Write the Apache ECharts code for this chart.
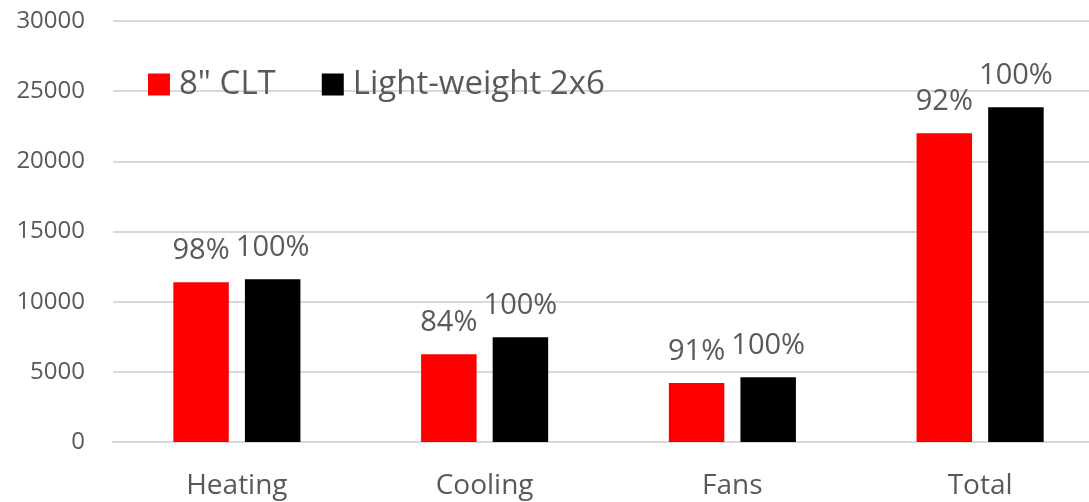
<!DOCTYPE html>
<html>
<head>
<meta charset="utf-8">
<script src="https://cdn.jsdelivr.net/npm/echarts@6/dist/echarts.min.js"></script>
<style>
  html, body { margin: 0; padding: 0; background: #ffffff; }
  #chart { width: 1089px; height: 502px; }
</style>
</head>
<body>
<div id="chart"></div>
<script>
// Annual energy use by end use: 8" CLT wall vs light-weight 2x6 wall
const categories = ['Heating', 'Cooling', 'Fans', 'Total'];
const seriesNames = ['8" CLT', 'Light-weight 2x6'];
const cltValues = [11380, 6260, 4200, 22000];
const lightValues = [11600, 7460, 4620, 23850];
// Each bar's share of the 2x6 baseline, as printed above the bars
const cltShare = ['98%', '84%', '91%', '92%'];
const lightShare = ['100%', '100%', '100%', '100%'];
const yTicks = [0, 5000, 10000, 15000, 20000, 25000, 30000];

const FONT = 'Open Sans';
const TEXT = '#595959';

const chart = echarts.init(document.getElementById('chart'), null, { renderer: 'canvas' });

function labelFor(texts) {
  return {
    show: true,
    position: 'top',
    distance: 17,
    color: TEXT,
    fontFamily: FONT,
    fontSize: 29,
    formatter: p => texts[p.dataIndex]
  };
}

chart.setOption({
  animation: false,
  backgroundColor: '#ffffff',
  textStyle: { fontFamily: FONT },
  legend: {
    left: 148,
    top: 68,
    padding: 0,
    itemWidth: 22,
    itemHeight: 22,
    itemGap: 46,
    icon: 'rect',
    textStyle: { color: TEXT, fontFamily: FONT, fontSize: 33, padding: [0, 0, 0, 4] },
    data: seriesNames
  },
  // the last category band runs a little past the right edge of the canvas
  grid: { left: 113, width: 991, top: 21, bottom: 60, outerBoundsMode: 'none', containLabel: false },
  xAxis: {
    type: 'category',
    data: categories,
    axisLine: { show: true, lineStyle: { color: '#d9d9d9', width: 2 } },
    axisTick: { show: false },
    axisLabel: { color: TEXT, fontFamily: FONT, fontSize: 28, margin: 30 }
  },
  yAxis: {
    type: 'value',
    min: yTicks[0],
    max: yTicks[yTicks.length - 1],
    interval: yTicks[1] - yTicks[0],
    axisLine: { show: false },
    axisTick: { show: false },
    splitLine: { lineStyle: { color: '#d9d9d9', width: 2 } },
    axisLabel: {
      color: TEXT, fontFamily: FONT, fontSize: 24, margin: 28,
      formatter: v => String(v)
    }
  },
  series: [
    {
      name: seriesNames[0],
      type: 'bar',
      data: cltValues,
      barWidth: '22.4%',
      barGap: '29%',
      itemStyle: { color: '#ff0000' },
      label: labelFor(cltShare)
    },
    {
      name: seriesNames[1],
      type: 'bar',
      data: lightValues,
      barWidth: '22.4%',
      barGap: '29%',
      itemStyle: { color: '#000000' },
      label: labelFor(lightShare)
    }
  ]
});
</script>
</body>
</html>
